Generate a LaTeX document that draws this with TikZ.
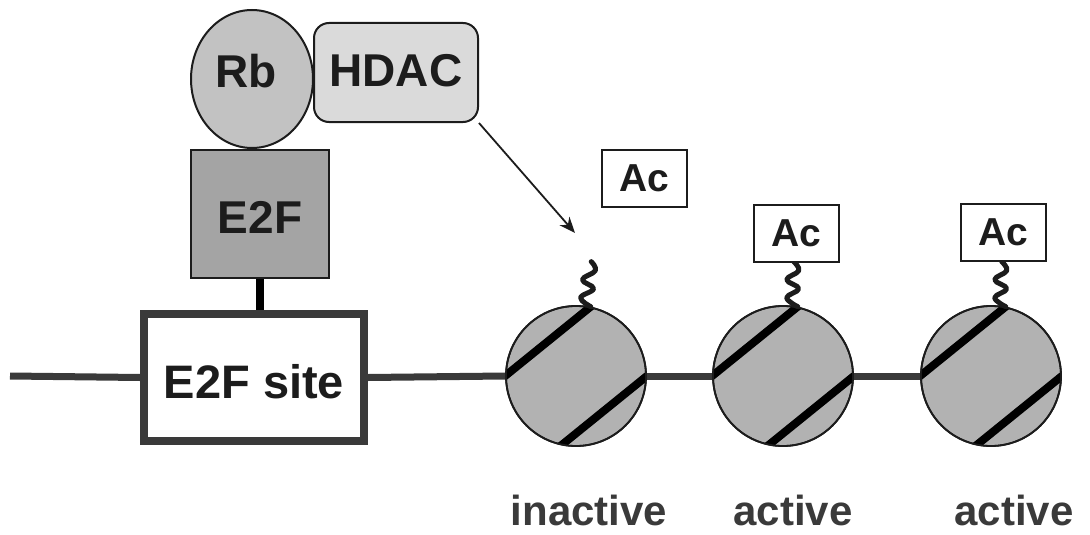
\documentclass[tikz,border=0pt]{standalone}
\usepackage{fontspec}
\setmainfont{Liberation Sans}
\usetikzlibrary{shapes.geometric,arrows.meta}

\definecolor{ink}{HTML}{1C1C1C}
\definecolor{rbgray}{HTML}{C2C2C2}
\definecolor{hdacgray}{HTML}{DADADA}
\definecolor{efgray}{HTML}{A4A4A4}
\definecolor{nucgray}{HTML}{B2B2B2}
\definecolor{dnagray}{HTML}{3A3A3A}

\newcommand{\bigfont}[1]{\fontsize{#1}{#1}\selectfont\bfseries}
% acetyl-lysine tail: a wavy chain rising from a histone anchor point
\newcommand{\histonetail}[2][0]{%
  \draw[tail,shift={(#2)},xslant=#1]
    plot[smooth,tension=0.7] coordinates
      {(0,0) (-11,-9) (1,-18) (-11,-27) (1,-36) (-4,-45)};}

\begin{document}
\begin{tikzpicture}[x=1pt,y=-1pt,
  txt/.style={text=ink,inner sep=0pt,font=\bigfont{46}},
  protein/.style={draw=ink,line width=2pt},
  nuc/.style={circle,draw=ink,line width=1.8pt,fill=nucgray,minimum size=140pt,inner sep=0pt},
  acbox/.style={draw=ink,line width=2pt,fill=white,minimum width=85pt,minimum height=57pt,inner sep=0pt,text=ink,font=\bigfont{39}},
  dna/.style={draw=dnagray,line width=7pt},
  stripe/.style={draw=black,line width=8pt},
  tail/.style={draw=ink,line width=5pt,line cap=round,line join=round},
  lbl/.style={anchor=base,text=dnagray,inner sep=0pt,font=\bigfont{42}},
  pointer/.style={draw=ink,line width=1.8pt,-{Stealth[length=16pt,width=13pt]}}
]
\useasboundingbox (0,0) rectangle (1090,535);

% --- promoter: E2F site on the DNA ---
\coordinate (dnastart) at (10,376);
\node[draw=dnagray,line width=8pt,fill=white,minimum width=220pt,minimum height=127pt,inner sep=0pt]
  (site) at (254,377.5) {};
\node[txt,font=\bigfont{47}] (sitelabel) at (254,382) {E2F site};

% --- E2F / Rb / HDAC complex ---
\node[protein,rectangle,fill=efgray,minimum width=138pt,minimum height=128pt,inner sep=0pt]
  (e2f) at (260,214) {};
\node[txt] (e2flabel) at (260,217) {E2F};
\draw[line width=8pt,draw=black] (e2f.south) -- (e2f.south |- site.north);

\node[protein,ellipse,fill=rbgray,minimum width=122pt,minimum height=138pt,inner sep=0pt]
  (rb) at (252,79) {};
\node[txt] (rblabel) at (246,71) {Rb};

\node[protein,rectangle,rounded corners=15pt,fill=hdacgray,minimum width=164pt,minimum height=99pt,inner sep=0pt]
  (hdac) at (396,72.5) {};
\node[txt] (hdaclabel) at (396,71) {HDAC};

% --- nucleosomes ---
\node[nuc] (n1) at (576,376) {};
\node[nuc] (n2) at (783,376) {};
\node[nuc] (n3) at (991,376) {};

% DNA linkers
\draw[dna] (dnastart) -- (site.west);
\draw[dna] (site.east) -- (n1.west);
\draw[dna] (n1.east) -- (n2.west);
\draw[dna] (n2.east) -- (n3.west);

% DNA wrapped over each histone core
\foreach \n in {n1,n2,n3}{
  \begin{scope}
    \clip (\n.center) circle (70pt);
    \draw[stripe,shorten <=-6pt,shorten >=-6pt] (\n.180) -- (\n.78);
    \draw[stripe,shorten <=-6pt,shorten >=-6pt] (\n.0) -- (\n.258);
  \end{scope}
  \draw[draw=ink,line width=1.8pt] (\n.center) circle (70pt);
}

% --- histone tails and acetyl groups ---
\histonetail[0.1]{n1.78}
\histonetail{n2.78}
\histonetail{n3.78}

\node[acbox] (ac1) at (644.5,178.5) {Ac};
\node[acbox] (ac2) at (796,233.5) {Ac};
\node[acbox] (ac3) at (1003,232) {Ac};

% HDAC acts on the first nucleosome
\coordinate (target) at (575,233);
\draw[pointer] (hdac.south east) -- (target);

% --- state labels ---
\node[lbl] (l1) at (589,525) {inactive};
\node[lbl] (l2) at (793,525) {active};
\node[lbl] (l3) at (1014,525) {active};
\end{tikzpicture}
\end{document}
